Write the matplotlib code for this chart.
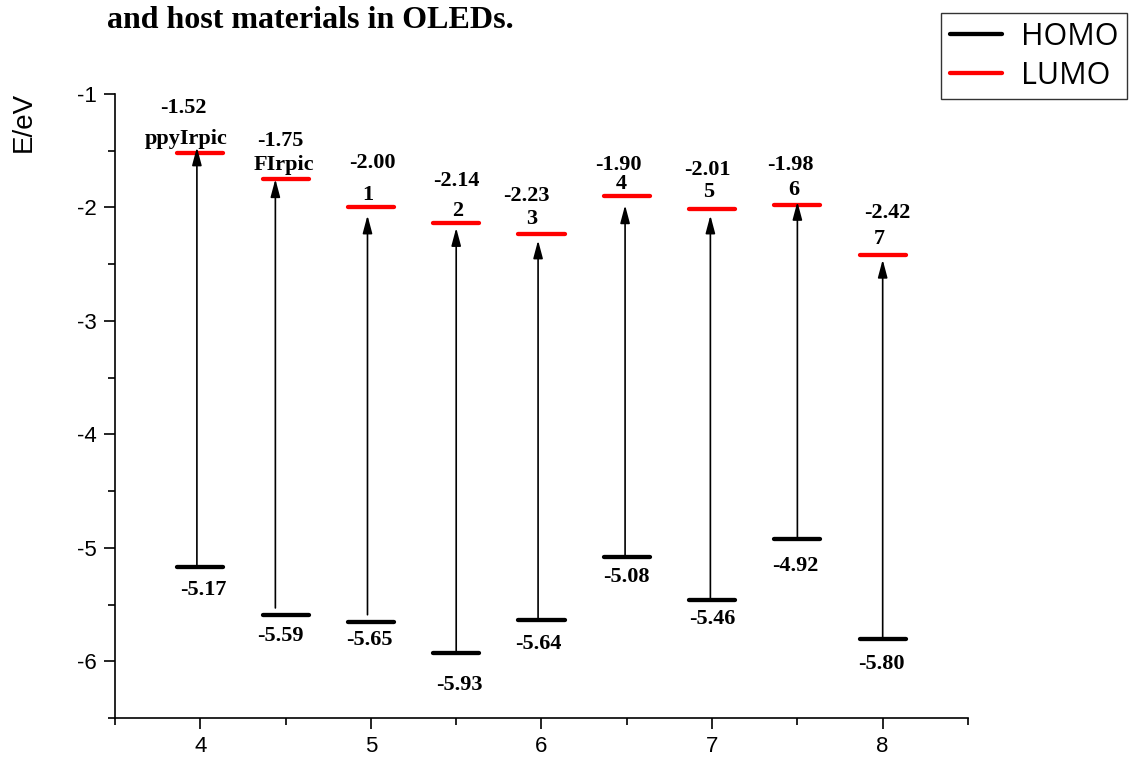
import numpy as np
import matplotlib
matplotlib.use("Agg")
import matplotlib.pyplot as plt
from matplotlib.lines import Line2D

# 数据：HOMO / LUMO 能级 (eV)
positions = [4, 4.5, 5, 5.5, 6, 6.5, 7, 7.5, 8]
names = ["ppyIrpic", "FIrpic", "1", "2", "3", "4", "5", "6", "7"]
homo = [-5.17, -5.59, -5.65, -5.93, -5.64, -5.08, -5.46, -4.92, -5.80]
lumo = [-1.52, -1.75, -2.00, -2.14, -2.23, -1.90, -2.01, -1.98, -2.42]

# 标注位置微调 (dx, dy)，相对能级线
lumo_txt_nudge = [(-0.10, 0.40), (-0.03, 0.34), (0.01, 0.39), (0.00, 0.37), (-0.09, 0.33),
                  (-0.05, 0.27), (-0.03, 0.34), (-0.04, 0.35), (0.03, 0.37)]
name_nudge = [(-0.08, 0.12), (-0.01, 0.12), (-0.02, 0.11), (0.01, 0.11), (-0.06, 0.13),
              (-0.03, 0.11), (-0.02, 0.15), (-0.02, 0.13), (-0.02, 0.14)]
homo_txt_nudge = [(0.02, -0.20), (-0.03, -0.19), (-0.01, -0.16), (0.02, -0.28), (-0.02, -0.21),
                  (0.00, -0.18), (0.00, -0.17), (-0.01, -0.24), (-0.01, -0.22)]
# 箭头: x 偏移, 顶端离 LUMO 的间隙, 底端离 HOMO 的间隙
arrow_dx = [-0.02, -0.06, -0.02, 0.0, -0.02, -0.01, -0.01, 0.0, 0.0]
arrow_top_gap = [-0.05, 0.0, 0.07, 0.04, 0.06, 0.08, 0.06, -0.03, 0.04]
arrow_bot_gap = [0.0, 0.06, 0.06, 0.0, 0.0, 0.0, 0.0, 0.0, 0.0]

half_w = 0.135
serif_bold = dict(family="Liberation Serif", fontweight="bold", fontsize=16)

fig = plt.figure(figsize=(11.32, 7.61), dpi=100)
ax = fig.add_axes([0.1016, 0.0565, 0.7535, 0.82])

x = np.array(positions)
ax.hlines(homo, x - half_w, x + half_w, colors="black", linewidth=3.1, capstyle="round", zorder=3)
ax.hlines(lumo, x - half_w, x + half_w, colors="red", linewidth=3.1, capstyle="round", zorder=3)

for i in range(len(positions)):
    xa = positions[i] + arrow_dx[i]
    ax.annotate("", xy=(xa, lumo[i] - arrow_top_gap[i]), xytext=(xa, homo[i] + arrow_bot_gap[i]),
                arrowprops=dict(arrowstyle="-|>,head_length=0.6,head_width=0.16", color="black",
                                lw=1.2, shrinkA=0, shrinkB=0, mutation_scale=18))
    dx, dy = lumo_txt_nudge[i]
    ax.text(positions[i] + dx, lumo[i] + dy, f"{lumo[i]:.2f}", ha="center", va="center", **serif_bold)
    dx, dy = name_nudge[i]
    ax.text(positions[i] + dx, lumo[i] + dy, names[i], ha="center", va="center", **serif_bold)
    dx, dy = homo_txt_nudge[i]
    ax.text(positions[i] + dx, homo[i] + dy, f"{homo[i]:.2f}", ha="center", va="center", **serif_bold)

ax.set_xlim(3.5, 8.5)
ax.set_ylim(-6.5, -1)
ax.set_xticks([4, 5, 6, 7, 8])
ax.set_xticks([3.5, 4.5, 5.5, 6.5, 7.5, 8.5], minor=True)
ax.set_yticks([-6, -5, -4, -3, -2, -1])
ax.set_yticks([-6.5, -5.5, -4.5, -3.5, -2.5, -1.5], minor=True)
ax.set_xticklabels(["4", "5", "6", "7", "8"])
ax.set_yticklabels(["-6", "-5", "-4", "-3", "-2", "-1"])
for s in ["top", "right"]:
    ax.spines[s].set_visible(False)
for s in ["left", "bottom"]:
    ax.spines[s].set_linewidth(1.2)
ax.tick_params(which="major", direction="out", length=8, width=1.2, labelsize=16, pad=5)
ax.tick_params(which="minor", direction="out", length=5, width=1.2)
for lab in ax.get_xticklabels() + ax.get_yticklabels():
    lab.set_family("Liberation Sans")

fig.text(24 / 1132, 1 - 122 / 761, "E/eV", rotation=90, ha="center", va="center",
         fontsize=20, family="Liberation Sans")
fig.text(310 / 1132, 1 - 28 / 761, "and host materials in OLEDs.", ha="center", va="baseline",
         fontsize=23, family="Liberation Serif", fontweight="bold")

handles = [Line2D([], [], color="black", lw=3.1, solid_capstyle="round"),
           Line2D([], [], color="red", lw=3.1, solid_capstyle="round")]
leg = ax.legend(handles, ["HOMO", "LUMO"], loc="upper left", bbox_to_anchor=(941 / 1132, 1 - 13 / 761),
                bbox_transform=fig.transFigure, fancybox=False, framealpha=1, edgecolor="#333333",
                prop=dict(family="Open Sans", size=22), handlelength=1.7, handletextpad=0.65,
                labelspacing=0.3, borderpad=0.28, borderaxespad=0)
leg.get_frame().set_linewidth(1.0)

fig.savefig("out.png", dpi=100)
